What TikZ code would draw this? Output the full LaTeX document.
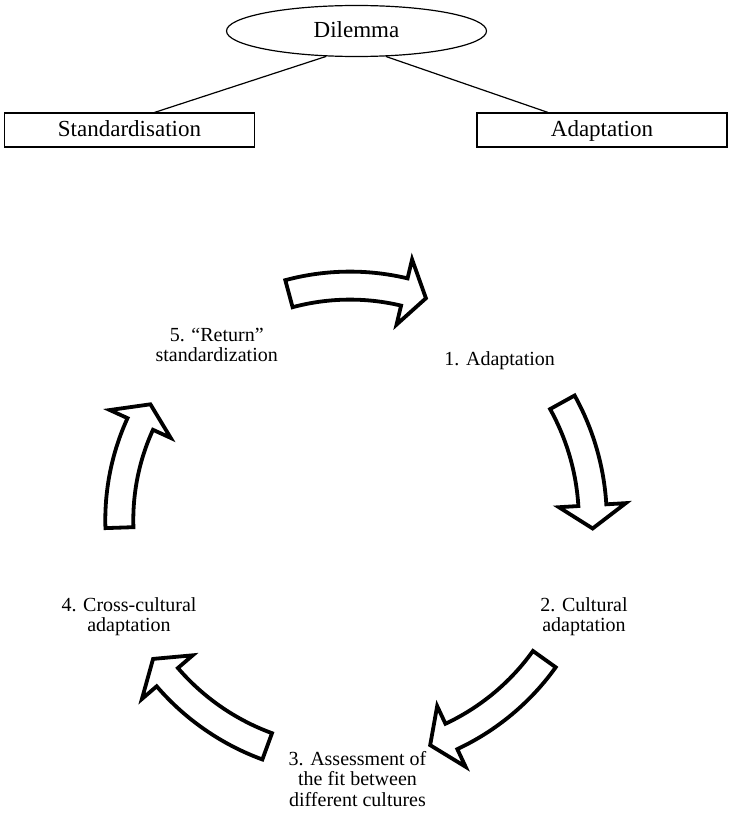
\documentclass[tikz,border=0pt]{standalone}
\usepackage{fontspec}
\setmainfont{Liberation Serif}
\usetikzlibrary{shapes.geometric}
\newcommand{\toptext}{\fontsize{23}{27}\selectfont}
\newcommand{\cycletext}{\fontsize{20}{20.7}\selectfont}
% block arrow on an arc: radius, start angle, end angle
\newcommand{\cyclearrow}[3]{%
  \draw[cyclearrow] ({#2}:{#1+14}) arc[start angle=#2, end angle=#3, radius=#1+14]
    -- ({#3}:{#1+33.5}) -- ({#3-5.5}:{#1}) -- ({#3}:{#1-33.5}) -- ({#3}:{#1-14})
    arc[start angle=#3, end angle=#2, radius=#1-14] -- cycle;}
\tikzset{
  topbox/.style={draw, line width=1.2pt, minimum width=250pt, minimum height=34pt, inner sep=0pt,
    text height=15pt, text depth=1pt, font=\toptext},
  cyclearrow/.style={draw, fill=white, line width=3.8pt, line join=miter},
  steplabel/.style={align=center, inner sep=0pt, font=\cycletext}
}
\begin{document}
\begin{tikzpicture}[x=1pt, y=1pt]
	\useasboundingbox (0,0) rectangle (728,-813);

	% Dilemma
	\node[draw, ellipse, line width=1.2pt, minimum width=260pt, minimum height=51pt, inner sep=0pt,
		text height=15pt, text depth=1pt, font=\toptext] (dil) at (356.5,-31) {Dilemma};
	\node[topbox] (std) at (129.5,-130) {Standardisation};
	\node[topbox] (ada) at (602,-130) {Adaptation};
	\draw[line width=1.2pt] (dil.220) -- (std.35.6);
	\draw[line width=1.2pt] (dil.319) -- (ada.162.6);

	% Cycle
	\begin{scope}[shift={(350,-520)}]
		\cyclearrow{234.4}{105.1}{76.6}
		\cyclearrow{242.8}{29.0}{3.5}
		\cyclearrow{239}{-35.6}{-64.9}
		\cyclearrow{241}{249.9}{220.7}
		\cyclearrow{230.7}{181.9}{155.4}
	\end{scope}

	% Steps
	\node[steplabel] (s1) at (499.7,-361) {1. Adaptation};
	\node[steplabel] (s2) at (584,-616.6) {2. Cultural\\adaptation};
	\node[steplabel] (s3) at (357.5,-779) {3. Assessment of\\the fit between\\different cultures};
	\node[steplabel] (s4) at (129,-616.6) {4. Cross-cultural\\adaptation};
	\node[steplabel] (s5) at (216.7,-345) {5. “Return”\\standardization};
\end{tikzpicture}
\end{document}
